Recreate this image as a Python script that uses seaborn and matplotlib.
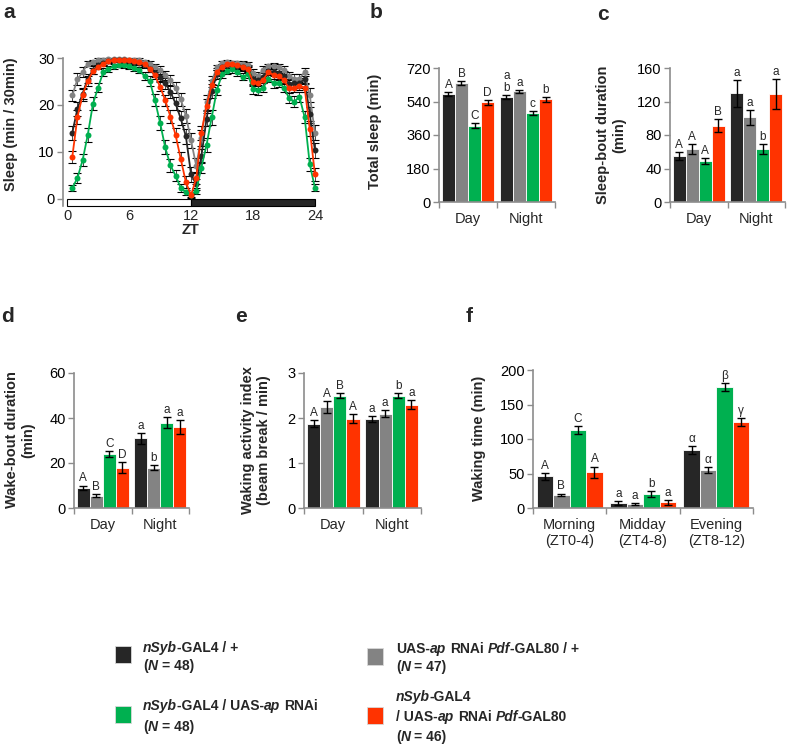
import numpy as np
import pandas as pd
import matplotlib
matplotlib.use('Agg')
import matplotlib.pyplot as plt
from matplotlib.patches import Rectangle
import seaborn as sns

# genotypes (bar order) and colours
genotypes = ['nSyb>+', 'ap>+', 'nSyb>ap', 'nSyb>ap,Pdf80']
colors = ['#262626', '#838383', '#00b050', '#ff3300']
palette = dict(zip(genotypes, colors))

# panel a: sleep profile, 30-min bins
zt = [0.5, 1.0, 1.5, 2.0, 2.5, 3.0, 3.5, 4.0, 4.5, 5.0, 5.5, 6.0,
      6.5, 7.0, 7.5, 8.0, 8.5, 9.0, 9.5, 10.0, 10.5, 11.0, 11.5, 12.0,
      12.5, 13.0, 13.5, 14.0, 14.5, 15.0, 15.5, 16.0, 16.5, 17.0, 17.5, 18.0,
      18.5, 19.0, 19.5, 20.0, 20.5, 21.0, 21.5, 22.0, 22.5, 23.0, 23.5, 24.0]
sleep_nsyb = [14.0, 19.2, 22.4, 25.6, 27.4, 28.4, 28.9, 29.3, 29.5, 29.5, 29.5, 29.4,
              29.1, 28.9, 28.4, 27.7, 26.8, 26.0, 24.6, 22.8, 20.3, 17.1, 13.3, 5.2,
              3.0, 9.0, 17.0, 23.0, 26.5, 28.0, 28.5, 28.5, 28.3, 28.0, 27.7, 25.5,
              25.2, 26.0, 27.3, 27.0, 26.8, 26.2, 24.5, 24.6, 24.6, 25.5, 18.0, 10.3]
sleep_ap = [22.0, 25.5, 27.0, 28.8, 29.1, 29.5, 29.6, 29.7, 29.7, 29.7, 29.7, 29.6,
            29.6, 29.5, 29.1, 28.8, 28.1, 27.4, 26.3, 25.3, 23.7, 21.2, 17.7, 12.4,
            7.0, 13.0, 20.5, 25.0, 28.0, 29.0, 29.1, 29.0, 28.9, 28.8, 28.6, 26.8,
            26.2, 27.5, 28.2, 28.3, 28.0, 27.4, 26.2, 25.5, 25.6, 27.0, 22.0, 14.0]
sleep_rnai = [2.2, 4.4, 8.2, 13.6, 20.2, 23.7, 27.0, 27.7, 28.2, 28.6, 28.4, 28.2,
              27.9, 27.4, 26.1, 25.1, 21.0, 16.2, 10.9, 7.1, 4.9, 2.3, 1.3, 0.8,
              1.6, 6.6, 11.4, 17.3, 23.1, 26.5, 27.2, 27.6, 27.0, 26.0, 26.5, 23.3,
              23.1, 23.7, 25.6, 24.6, 24.7, 23.7, 21.4, 20.7, 21.7, 17.4, 7.3, 2.3]
sleep_pdf80 = [8.9, 17.4, 22.1, 25.1, 27.2, 28.1, 28.8, 29.3, 29.5, 29.6, 29.5, 29.5,
               29.3, 29.1, 28.7, 27.7, 26.3, 23.9, 21.0, 17.5, 13.6, 8.5, 3.5, 0.7,
               4.3, 14.0, 19.8, 24.2, 27.0, 28.1, 28.7, 28.8, 28.4, 28.1, 27.7, 24.9,
               24.6, 25.4, 27.0, 26.3, 26.1, 25.3, 23.5, 23.7, 24.0, 23.7, 14.8, 5.2]
sem_nsyb = [1.5, 1.5, 1.2, 1.0, 0.8, 0.6, 0.5, 0.4, 0.4, 0.4, 0.4, 0.4,
            0.5, 0.5, 0.6, 0.7, 0.9, 1.0, 1.2, 1.3, 1.4, 1.5, 1.6, 1.6,
            1.2, 1.5, 1.6, 1.5, 1.0, 0.7, 0.6, 0.6, 0.6, 0.7, 0.7, 1.0,
            1.0, 0.9, 0.8, 0.8, 0.9, 1.0, 1.1, 1.1, 1.1, 1.0, 1.5, 1.6]
sem_ap = [1.2, 1.2, 1.0, 0.6, 0.5, 0.4, 0.3, 0.3, 0.3, 0.3, 0.3, 0.3,
          0.3, 0.4, 0.5, 0.6, 0.7, 0.8, 1.0, 1.1, 1.2, 1.4, 1.5, 1.6,
          1.6, 1.7, 1.6, 1.2, 0.6, 0.4, 0.4, 0.4, 0.4, 0.5, 0.5, 0.8,
          0.8, 0.7, 0.6, 0.6, 0.7, 0.8, 0.9, 1.0, 1.0, 0.9, 1.5, 1.6]
sem_rnai = [0.6, 1.0, 1.3, 1.5, 1.4, 1.0, 0.8, 0.6, 0.5, 0.5, 0.5, 0.6,
            0.6, 0.7, 0.9, 1.0, 1.3, 1.5, 1.5, 1.4, 1.2, 0.9, 0.6, 0.4,
            0.7, 1.2, 1.5, 1.5, 1.1, 0.8, 0.7, 0.7, 0.8, 0.8, 0.8, 1.0,
            1.0, 0.9, 0.8, 0.9, 0.9, 1.0, 1.1, 1.2, 1.1, 1.3, 1.4, 0.8]
sem_pdf80 = [1.3, 1.5, 1.3, 1.0, 0.7, 0.5, 0.4, 0.3, 0.3, 0.3, 0.3, 0.3,
             0.4, 0.4, 0.5, 0.6, 0.8, 1.0, 1.2, 1.4, 1.5, 1.4, 1.2, 0.5,
             1.3, 1.5, 1.5, 1.2, 0.8, 0.6, 0.5, 0.5, 0.5, 0.6, 0.6, 0.8,
             0.9, 0.8, 0.7, 0.7, 0.8, 0.8, 0.9, 0.9, 0.9, 0.9, 1.4, 1.4]

# bar panels: rows = period, columns = genotype
periods = ['Day', 'Night']
windows = ['Morning\n(ZT0-4)', 'Midday\n(ZT4-8)', 'Evening\n(ZT8-12)']
total_sleep = [[580, 640, 410, 535], [565, 595, 478, 552]]
total_sleep_sem = [[10, 9, 14, 12], [12, 9, 10, 12]]
total_sleep_sig = [['A', 'B', 'C', 'D'], ['a\nb', 'a', 'c', 'b']]
sleep_bout = [[55, 63, 49, 91], [130, 101, 63, 129]]
sleep_bout_sem = [[5, 6, 4, 8], [16, 9, 6, 18]]
sleep_bout_sig = [['A', 'A', 'A', 'B'], ['a', 'a', 'b', 'a']]
wake_bout = [[9, 5.5, 24, 18], [31, 18, 38, 36]]
wake_bout_sem = [[1, 0.8, 1.5, 2.5], [2.5, 1.2, 2.5, 3]]
wake_bout_sig = [['A', 'B', 'C', 'D'], ['a', 'b', 'a', 'a']]
activity = [[1.87, 2.25, 2.5, 1.98], [1.98, 2.1, 2.5, 2.3]]
activity_sem = [[0.08, 0.13, 0.05, 0.1], [0.06, 0.07, 0.06, 0.1]]
activity_sig = [['A', 'A', 'B', 'A'], ['a', 'a', 'b', 'a']]
waking = [[46, 19, 113, 52], [7, 6, 20, 8], [84, 55, 175, 125]]
waking_sem = [[5, 2, 6, 8], [3, 1, 4, 3], [6, 4, 6, 6]]
waking_sig = [['A', 'B', 'C', 'A'], ['a', 'a', 'b', 'a'], ['α', 'α', 'β', 'γ']]

sns.set_theme(style='white')
plt.rcParams['font.family'] = ['Liberation Sans', 'DejaVu Sans']

W, H = 787, 746
GRAY = '#8c8c8c'
FS = 10.5
fig = plt.figure(figsize=(W / 100, H / 100), dpi=100)


def px_axes(l, t, r, b):
    return fig.add_axes([l / W, 1 - b / H, (r - l) / W, (b - t) / H])


def ftext(x, y, s, **kw):
    return fig.text(x / W, 1 - y / H, s, **kw)


def style_axis(ax):
    for s in ['top', 'right']:
        ax.spines[s].set_visible(False)
    for s in ['left', 'bottom']:
        ax.spines[s].set_color(GRAY)
        ax.spines[s].set_linewidth(1.2)
    ax.tick_params(axis='y', left=True, direction='out', length=4, width=1,
                   color=GRAY, labelsize=FS, pad=2, labelcolor='black')


def bar_panel(ax, groups, vals, errs, sig, ymax, ystep):
    df = pd.DataFrame([(g, gen, v) for g, row in zip(groups, vals)
                       for gen, v in zip(genotypes, row)],
                      columns=['period', 'genotype', 'value'])
    sns.barplot(data=df, x='period', y='value', hue='genotype', order=groups,
                hue_order=genotypes, palette=palette, width=0.9, errorbar=None,
                saturation=1, edgecolor='white', linewidth=0.6, legend=False, ax=ax)
    buckets = {}
    for p in ax.patches:
        cx = p.get_x() + p.get_width() / 2
        buckets.setdefault(int(round(cx)), []).append(cx)
    for i, xs in buckets.items():
        for k, x in enumerate(sorted(xs)):
            v, e = vals[i][k], errs[i][k]
            ax.errorbar(x, v, yerr=e, fmt='none', ecolor='black', elinewidth=1,
                        capsize=3, capthick=1)
            ax.text(x, v + e + ymax * 0.008, sig[i][k], ha='center', va='bottom',
                    fontsize=8.5, linespacing=1.0)
    n = len(groups)
    ax.set_xlim(-0.5, n - 0.5)
    ax.set_ylim(0, ymax)
    ax.set_yticks(np.arange(0, ymax + ystep / 2, ystep))
    ax.set_xlabel('')
    ax.set_ylabel('')
    style_axis(ax)
    ax.set_xticks(range(n))
    ax.set_xticklabels(groups)
    ax.set_xticks(np.arange(-0.5, n, 1), minor=True)
    ax.tick_params(axis='x', which='major', length=0, pad=7, labelsize=FS)
    ax.tick_params(axis='x', which='minor', bottom=True, length=4, width=1,
                   color=GRAY, direction='out')


# ---- panel a
ax = px_axes(63, 58, 317, 206)
line_order = ['ap>+', 'nSyb>+', 'nSyb>ap', 'nSyb>ap,Pdf80']
series = {'nSyb>+': (sleep_nsyb, sem_nsyb), 'ap>+': (sleep_ap, sem_ap),
          'nSyb>ap': (sleep_rnai, sem_rnai), 'nSyb>ap,Pdf80': (sleep_pdf80, sem_pdf80)}
df_a = pd.concat([pd.DataFrame({'zt': zt, 'sleep': series[g][0], 'genotype': g})
                  for g in line_order])
for g in line_order:
    ax.errorbar(zt, series[g][0], yerr=series[g][1], fmt='none', ecolor='black',
                elinewidth=0.5, capsize=2.8, capthick=0.8, zorder=1)
sns.lineplot(data=df_a, x='zt', y='sleep', hue='genotype', hue_order=line_order,
             palette=palette, marker='o', markersize=4.3, markeredgewidth=0,
             linewidth=1.3, errorbar=None, legend=False, ax=ax)
for ln in ax.lines:
    ln.set_clip_on(False)
ax.set_xlim(-0.4, 24.2)
ax.set_ylim(-1.6, 30)
ax.set_yticks([0, 10, 20, 30])
ax.set_xticks([0, 6, 12, 18, 24])
ax.set_xlabel('')
ax.set_ylabel('')
style_axis(ax)
ax.spines['bottom'].set_visible(False)
ax.spines['left'].set_bounds(-1.5, 30)
ax.tick_params(axis='x', length=0, pad=2, labelsize=FS)
ax.add_patch(Rectangle((0, -1.5), 12, 1.3, facecolor='white', edgecolor='black',
                       linewidth=0.8, clip_on=False))
ax.add_patch(Rectangle((12, -1.5), 12, 1.3, facecolor='#262626', edgecolor='black',
                       linewidth=0.8, clip_on=False))
ftext(190, 230, 'ZT', fontsize=FS, fontweight='bold', ha='center', va='center')
ftext(11, 124, 'Sleep (min / 30min)', fontsize=FS, fontweight='bold',
      rotation=90, ha='center', va='center')

# ---- panel b
ax = px_axes(439, 68, 555, 202)
bar_panel(ax, periods, total_sleep, total_sleep_sem, total_sleep_sig, 720, 180)
ftext(375, 131, 'Total sleep (min)', fontsize=FS, fontweight='bold',
      rotation=90, ha='center', va='center')

# ---- panel c
ax = px_axes(670, 68, 785, 202)
bar_panel(ax, periods, sleep_bout, sleep_bout_sem, sleep_bout_sig, 160, 40)
ftext(611, 135, 'Sleep-bout duration\n(min)', fontsize=FS, fontweight='bold',
      rotation=90, ha='center', va='center', multialignment='center')

# ---- panel d
ax = px_axes(74, 373, 189, 508)
bar_panel(ax, periods, wake_bout, wake_bout_sem, wake_bout_sig, 60, 20)
ftext(20, 440, 'Wake-bout duration\n(min)', fontsize=FS, fontweight='bold',
      rotation=90, ha='center', va='center', multialignment='center')

# ---- panel e
ax = px_axes(304, 373, 421, 508)
bar_panel(ax, periods, activity, activity_sem, activity_sig, 3, 1)
ftext(256, 440, 'Waking activity index\n(beam break / min)', fontsize=FS,
      fontweight='bold', rotation=90, ha='center', va='center',
      multialignment='center')

# ---- panel f
ax = px_axes(533, 370, 753, 508)
bar_panel(ax, windows, waking, waking_sem, waking_sig, 200, 50)
ftext(479, 438, 'Waking time (min)', fontsize=FS, fontweight='bold',
      rotation=90, ha='center', va='center')

# panel letters
for s, x, y in [('a', 9, 13), ('b', 376, 12), ('c', 603, 14),
                ('d', 8, 317), ('e', 241, 317), ('f', 469, 317)]:
    ftext(x, y, s, fontsize=15, fontweight='bold', ha='center', va='center')

# ---- legend (mixed bold / bold-italic)
LFS = 10
renderer = fig.canvas.get_renderer()


def seg_w(s, style):
    t = fig.text(0, 0, '|' + s + '|', fontsize=LFS, fontweight='bold', fontstyle=style)
    w = t.get_window_extent(renderer).width
    t.remove()
    t = fig.text(0, 0, '||', fontsize=LFS, fontweight='bold', fontstyle=style)
    w0 = t.get_window_extent(renderer).width
    t.remove()
    return w - w0


def rich_line(x, y, parts):
    for s, it in parts:
        style = 'italic' if it else 'normal'
        lead = len(s) - len(s.lstrip())
        xd = x + (seg_w(s[:lead], style) if lead else 0)
        ftext(xd, y, s.strip(), fontsize=LFS, fontweight='bold', fontstyle=style,
              ha='left', va='center')
        x += seg_w(s, style)


legend_items = [
    ('nSyb>+', 115, 646, 143, [
        (648, [('nSyb', 1), ('-GAL4 / +', 0)]),
        (666, [('(', 0), ('N', 1), (' = 48)', 0)])]),
    ('nSyb>ap', 115, 706, 143, [
        (706, [('nSyb', 1), ('-GAL4 / UAS-', 0), ('ap', 1), (' RNAi', 0)]),
        (727, [('(', 0), ('N', 1), (' = 48)', 0)])]),
    ('ap>+', 367, 648, 396, [
        (649, [('UAS-', 0), ('ap', 1), (' RNAi ', 0), ('Pdf', 1), ('-GAL80 / +', 0)]),
        (667, [('(', 0), ('N', 1), (' = 47)', 0)])]),
    ('nSyb>ap,Pdf80', 367, 707, 396, [
        (697, [('nSyb', 1), ('-GAL4', 0)]),
        (717, [('/ UAS-', 0), ('ap', 1), (' RNAi ', 0), ('Pdf', 1), ('-GAL80', 0)]),
        (737, [('(', 0), ('N', 1), (' = 46)', 0)])]),
]
for g, sx, sy, tx, lines in legend_items:
    fig.add_artist(Rectangle((sx / W, 1 - (sy + 17) / H), 16 / W, 17 / H,
                             transform=fig.transFigure, facecolor=palette[g],
                             edgecolor='#d9d9d9', linewidth=0.6))
    for y, parts in lines:
        rich_line(tx, y, parts)

fig.savefig('out.png', dpi=100)
